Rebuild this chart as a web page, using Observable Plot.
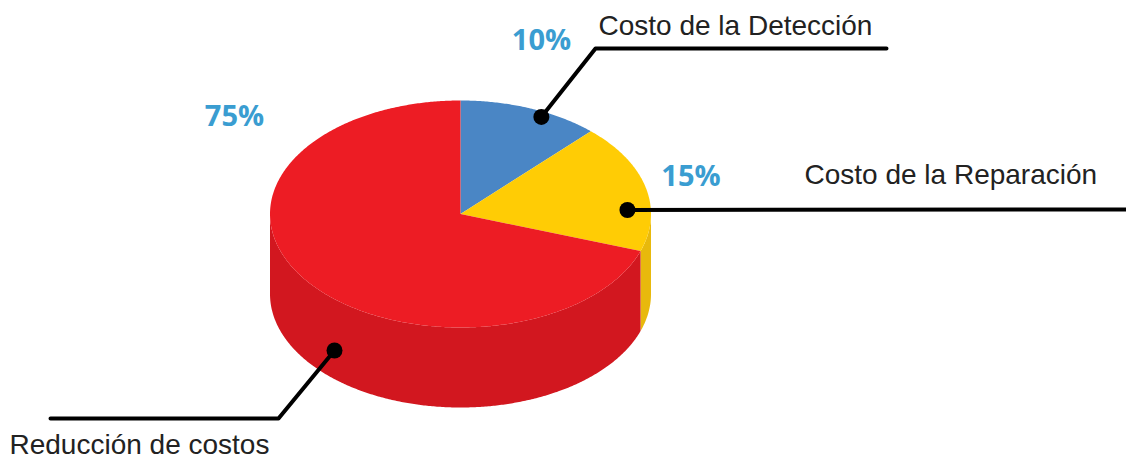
<!DOCTYPE html>
<html>
<head>
<meta charset="utf-8">
<script src="https://cdn.jsdelivr.net/npm/d3@7"></script>
<script src="https://cdn.jsdelivr.net/npm/@observablehq/plot@0.6"></script>
<style>
  html, body { margin: 0; padding: 0; background: #fff; }
  svg { display: block; }
</style>
</head>
<body>
<div id="chart"></div>
<script>
// Data
const categories = ["Costo de la Detección", "Costo de la Reparación", "Reducción de costos"];
const printedLabels = ["10%", "15%", "75%"];
// The artwork's slices are not drawn to the printed percentages; these are the shares as drawn.
const drawnShares = [12, 18.3, 69.7];
const topColors = ["#4a86c5", "#ffcc05", "#ed1c24"];
const sideColors = ["#4a86c5", "#e8b90c", "#d2171f"];

// Pie geometry in the chart's coordinate system
const cx = 460, cy = 213.5, rx = 190.5, ry = 113.5, depth = 80;
const pt = (turn, r = 1, drop = 0) => {
  const a = turn * 2 * Math.PI;
  return [cx + rx * r * Math.sin(a), cy - ry * r * Math.cos(a) + drop];
};
const total = d3.sum(drawnShares);
const ends = d3.cumsum(drawnShares).map(v => v / total);
const starts = [0, ...ends.slice(0, -1)];

const faces = [];
const addPoint = (id, group, p) => faces.push({id, group, x: p[0], y: p[1]});
const step = 1 / 720;
// Side walls: only the front half of the cylinder shows
categories.forEach((c, i) => {
  const a = Math.max(starts[i], 0.25), b = Math.min(ends[i], 0.75);
  if (a >= b) return;
  const ts = [...d3.range(a, b, step), b];
  ts.forEach(t => addPoint("side" + i, "side " + c, pt(t)));
  ts.slice().reverse().forEach(t => addPoint("side" + i, "side " + c, pt(t, 1, depth)));
});
// Top wedges
categories.forEach((c, i) => {
  addPoint("top" + i, "top " + c, [cx, cy]);
  [...d3.range(starts[i], ends[i], step), ends[i]].forEach(t => addPoint("top" + i, "top " + c, pt(t)));
});

// Leader lines anchored on the slices
const dots = [pt(0.0733, 0.955), pt(0.2436, 0.877), [334, 350]];
const leaders = [
  [dots[0], [595, 48], [886, 48]],
  [dots[1], [1126, 209]],
  [dots[2], [278, 418], [50, 418]]
].flatMap((path, i) => path.map(p => ({i, x: p[0], y: p[1]})));

const names = categories.map((c, i) => ({
  text: c, x: [598, 804, 9][i], y: [26, 175, 445][i]
}));
const pcts = printedLabels.map((t, i) => ({
  text: t, x: [541, 690.5, 234][i], y: [40, 176, 116][i]
}));

const chart = Plot.plot({
  width: 1126, height: 457,
  marginTop: 0, marginRight: 0, marginBottom: 0, marginLeft: 0,
  x: {domain: [0, 1126], range: [0, 1126], axis: null},
  y: {domain: [0, 457], range: [0, 457], axis: null},
  color: {
    domain: [...categories.map(c => "side " + c), ...categories.map(c => "top " + c)],
    range: [...sideColors, ...topColors]
  },
  style: {background: "#fff"},
  marks: [
    Plot.line(faces, {x: "x", y: "y", z: "id", fill: "group", stroke: "none", curve: "linear"}),
    Plot.line(leaders, {x: "x", y: "y", z: "i", stroke: "#000", strokeWidth: 4, curve: "linear", strokeLinejoin: "round"}),
    Plot.dot(dots, {x: d => d[0], y: d => d[1], r: 8, fill: "#000", stroke: "none"}),
    Plot.text(names, {x: "x", y: "y", text: "text", textAnchor: "start", fill: "#222",
      fontFamily: "Liberation Sans", fontSize: 28}),
    Plot.text(pcts, {x: "x", y: "y", text: "text", fill: "#3a9dd1",
      fontFamily: "Open Sans", fontWeight: 700, fontSize: 29})
  ]
});
document.getElementById("chart").append(chart);
</script>
</body>
</html>
